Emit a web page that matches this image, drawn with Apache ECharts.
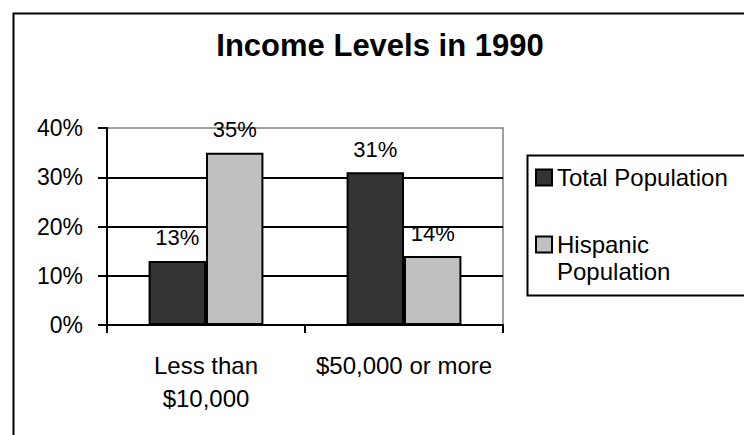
<!DOCTYPE html>
<html>
<head>
<meta charset="utf-8">
<script src="https://cdn.jsdelivr.net/npm/echarts@6/dist/echarts.min.js"></script>
<style>
  html, body { margin: 0; padding: 0; background: #fff; }
  #chart { width: 744px; height: 435px; }
</style>
</head>
<body>
<div id="chart"></div>
<script>
// Income brackets and share of each population group (percent)
const categories = ['Less than\n$10,000', '$50,000 or more'];
const seriesNames = ['Total Population', 'Hispanic Population'];
const totalPopulation = [13, 31];
const hispanicPopulation = [35, 14];
const yTicks = [0, 10, 20, 30, 40];

const font = 'Liberation Sans, Arial, sans-serif';

const chart = echarts.init(document.getElementById('chart'), null, { renderer: 'svg' });

const barLabel = {
  show: true,
  position: 'top',
  distance: 12,
  color: '#000',
  fontFamily: font,
  fontSize: 22,
  formatter: p => Math.round(p.value) + '%'
};

// Long legend names wrap onto two lines; a blank leading line keeps the
// swatch level with the first line of the wrapped name.
const legendName = n => (n.length > 16 ? '\n' + n.replace(' ', '\n') : n);

chart.setOption({
  backgroundColor: '#fff',
  animation: false,
  title: {
    text: 'Income Levels in 1990',
    left: 380,
    top: 30,
    padding: 0,
    textAlign: 'center',
    textStyle: { fontFamily: font, fontSize: 31, fontWeight: 'bold', color: '#000' }
  },
  graphic: [
    // outer chart frame
    { type: 'rect', left: 11, top: 11, shape: { width: 800, height: 500 },
      style: { fill: 'none', stroke: '#000', lineWidth: 2 }, silent: true },
    // legend frame
    { type: 'rect', left: 525, top: 153, shape: { width: 260, height: 140 },
      style: { fill: 'none', stroke: '#000', lineWidth: 2 }, silent: true }
  ],
  legend: {
    orient: 'vertical',
    left: 535,
    top: 164,
    padding: 0,
    itemGap: 13,
    itemWidth: 16,
    itemHeight: 16,
    icon: 'rect',
    textStyle: { fontFamily: font, fontSize: 24, lineHeight: 27, color: '#000' },
    data: seriesNames,
    formatter: legendName
  },
  grid: {
    left: 107, right: 241, top: 128, bottom: 110,
    show: true, borderColor: '#808080', borderWidth: 1.5, backgroundColor: 'transparent'
  },
  xAxis: {
    type: 'category',
    data: categories,
    axisLine: { lineStyle: { color: '#000', width: 2 } },
    axisTick: { show: true, length: 8, lineStyle: { color: '#000', width: 2 } },
    axisLabel: { interval: 0, color: '#000', fontFamily: font, fontSize: 24, lineHeight: 33, margin: 24 }
  },
  yAxis: {
    type: 'value',
    min: yTicks[0],
    max: yTicks[yTicks.length - 1],
    interval: yTicks[1] - yTicks[0],
    axisLine: { show: true, lineStyle: { color: '#000', width: 2 } },
    axisTick: { show: true, length: 9, lineStyle: { color: '#000', width: 2 } },
    axisLabel: { color: '#000', fontFamily: font, fontSize: 23, margin: 24, formatter: '{value}%' },
    splitLine: { show: true, showMaxLine: false, lineStyle: { color: '#000', width: 2 } }
  },
  series: [
    {
      name: seriesNames[0],
      type: 'bar',
      data: totalPopulation,
      barGap: '0%',
      barCategoryGap: '42%',
      itemStyle: { color: '#333333', borderColor: '#000', borderWidth: 2 },
      label: barLabel
    },
    {
      name: seriesNames[1],
      type: 'bar',
      data: hispanicPopulation,
      itemStyle: { color: '#c0c0c0', borderColor: '#000', borderWidth: 2 },
      label: barLabel
    }
  ]
});
</script>
</body>
</html>
